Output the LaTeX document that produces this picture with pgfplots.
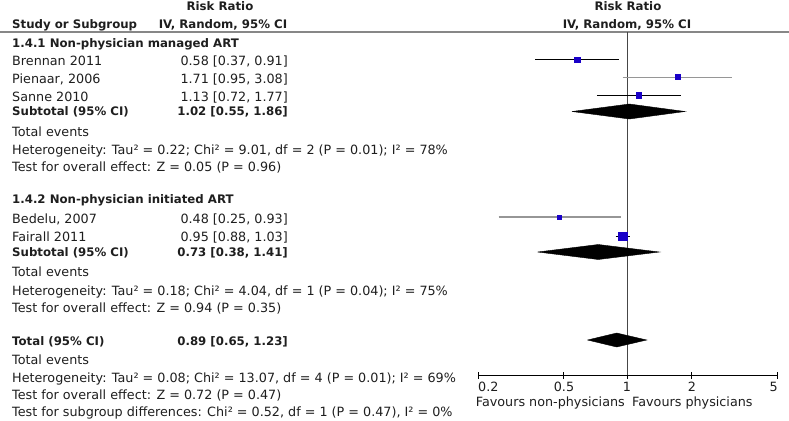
\documentclass[border=0pt]{standalone}
\usepackage{pgfplots}
\pgfplotsset{compat=1.18}
\usepackage{fontspec}
\setmainfont{DejaVu Sans}
\definecolor{sqblue}{RGB}{25,0,200}
\definecolor{cigray}{RGB}{150,150,150}
\definecolor{hdgray}{RGB}{135,135,135}
\definecolor{vlgray}{RGB}{70,70,70}
\definecolor{txt}{RGB}{30,30,30}
\newcommand{\fs}{\fontsize{12.8}{14}\selectfont}
\newcommand{\fb}{\fontsize{11.8}{14}\selectfont\bfseries}
\begin{document}
\begin{tikzpicture}
\useasboundingbox (0,0) rectangle (789bp,-421bp);
\begin{scope}[x=1bp,y=-1bp]
\draw[hdgray, line width=1.6bp] (0,32) -- (789,32);
\tikzset{L/.style={anchor=base west, inner sep=0pt, font=\fs, text=txt},
         R/.style={anchor=base east, inner sep=0pt, font=\fs, text=txt},
         C/.style={anchor=base, inner sep=0pt, font=\fs, text=txt}}
% headers
\node[C] at (220,10.5) {\fb Risk Ratio};
\node[L] at (12,28) {\fb Study or Subgroup};
\node[C] at (223,28) {\fb IV, Random, 95\% CI};
\node[C] at (628,10.5) {\fb Risk Ratio};
\node[C] at (627,28) {\fb IV, Random, 95\% CI};
% group 1
\node[L] at (12,47.5) {\fb 1.4.1 Non-physician managed ART};
\node[L] at (12,65.5) {Brennan 2011};      \node[R] at (288,65.5) {0.58 [0.37, 0.91]};
\node[L] at (12,83.5) {Pienaar, 2006};     \node[R] at (288,83.5) {1.71 [0.95, 3.08]};
\node[L] at (12,101.5) {Sanne 2010};       \node[R] at (288,101.5) {1.13 [0.72, 1.77]};
\node[L] at (12,115.5) {\fb Subtotal (95\% CI)}; \node[R] at (288,115.5) {\fb 1.02 [0.55, 1.86]};
\node[L] at (12,136.5) {Total events};
\node[L] at (12,154.5) {Heterogeneity: Tau² = 0.22; Chi² = 9.01, df = 2 (P = 0.01); I² = 78\%};
\node[L] at (12,171.5) {Test for overall effect: Z = 0.05 (P = 0.96)};
% group 2
\node[L] at (12,203.5) {\fb 1.4.2 Non-physician initiated ART};
\node[L] at (12,223) {Bedelu, 2007};     \node[R] at (288,223) {0.48 [0.25, 0.93]};
\node[L] at (12,241) {Fairall 2011};     \node[R] at (288,241) {0.95 [0.88, 1.03]};
\node[L] at (12,256) {\fb Subtotal (95\% CI)}; \node[R] at (288,256) {\fb 0.73 [0.38, 1.41]};
\node[L] at (12,276) {Total events};
\node[L] at (12,295) {Heterogeneity: Tau² = 0.18; Chi² = 4.04, df = 1 (P = 0.04); I² = 75\%};
\node[L] at (12,312.5) {Test for overall effect: Z = 0.94 (P = 0.35)};
% total
\node[L] at (12,345) {\fb Total (95\% CI)}; \node[R] at (288,345) {\fb 0.89 [0.65, 1.23]};
\node[L] at (12,364.5) {Total events};
\node[L] at (12,382.5) {Heterogeneity: Tau² = 0.08; Chi² = 13.07, df = 4 (P = 0.01); I² = 69\%};
\node[L] at (12,399.5) {Test for overall effect: Z = 0.72 (P = 0.47)};
\node[L] at (12,416.5) {Test for subgroup differences: Chi² = 0.52, df = 1 (P = 0.47), I² = 0\%};
% tick labels
\node[L] at (478,391.5) {0.2};
\node[C] at (564,391.5) {0.5};
\node[C] at (627,391.5) {1};
\node[C] at (692,391.5) {2};
\node[R] at (778,391.5) {5};
\node[R] at (625,406.5) {Favours non-physicians};
\node[L] at (632,406.5) {Favours physicians};
\end{scope}
\begin{axis}[at={(478bp,-375bp)}, anchor=south west, scale only axis,
  width=299bp, height=343bp, xmode=log, xmin=0.2, xmax=5,
  ymin=32, ymax=375, y dir=reverse,
  axis x line=bottom, axis y line=none,
  x axis line style={-, black, line width=0.8bp},
  xtick={0.2,0.5,1,2,5}, xticklabels={}, minor xtick={},
  xtick align=center, major tick length=7bp,
  xtick style={black, line width=0.8bp}, clip=false]
% line of no effect
\addplot[vlgray, line width=0.8bp] coordinates {(1,32) (1,375)};
% CIs
\addplot[black, line width=1bp] coordinates {(0.37,59.5) (0.91,59.5)};
\addplot[cigray, line width=1bp] coordinates {(0.95,77) (3.08,77)};
\addplot[black, line width=1bp] coordinates {(0.72,95) (1.77,95)};
\addplot[cigray, line width=1.2bp] coordinates {(0.25,217) (0.93,217)};
\addplot[black, line width=1bp] coordinates {(0.88,236) (1.03,236)};
% point estimates
\addplot[only marks, mark=square*, mark size=2.8bp, sqblue] coordinates {(0.58,59.5)};
\addplot[only marks, mark=square*, mark size=2.5bp, sqblue] coordinates {(1.71,77)};
\addplot[only marks, mark=square*, mark size=2.8bp, sqblue] coordinates {(1.13,95)};
\addplot[only marks, mark=square*, mark size=2.1bp, sqblue] coordinates {(0.48,217)};
\addplot[only marks, mark=square*, mark size=4.1bp, sqblue] coordinates {(0.95,236)};
% diamonds
\addplot[fill=black, draw=black] coordinates {(0.55,111.5) (1.02,104) (1.86,111.5) (1.02,119) (0.55,111.5)};
\addplot[fill=black, draw=black] coordinates {(0.38,252) (0.73,244.5) (1.41,252) (0.73,259.5) (0.38,252)};
\addplot[fill=black, draw=black] coordinates {(0.65,340) (0.89,333) (1.23,340) (0.89,347) (0.65,340)};
\end{axis}
\end{tikzpicture}
\end{document}
